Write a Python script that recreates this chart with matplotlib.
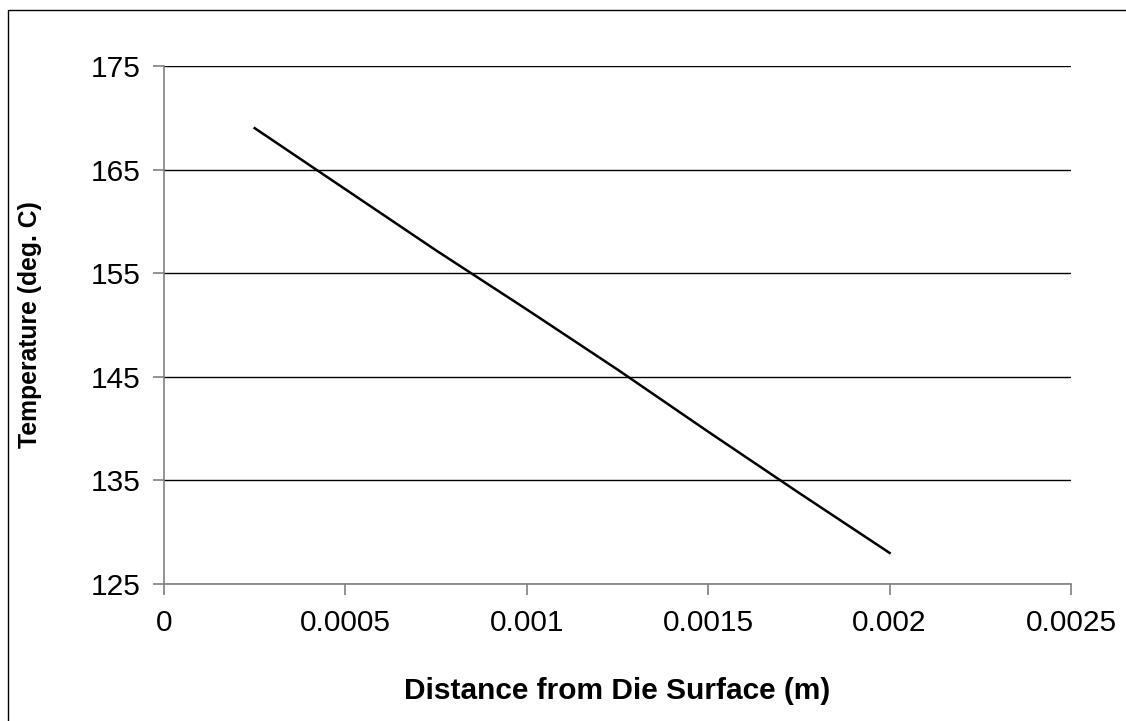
import matplotlib
matplotlib.use("Agg")
import matplotlib.pyplot as plt
from matplotlib.patches import Rectangle

plt.rcParams['font.family'] = ['Liberation Sans', 'DejaVu Sans']

# Temperature profile through the die wall
distance_m = [0.00025, 0.0005, 0.00075, 0.001, 0.00125, 0.0015, 0.00175, 0.002]
temperature_c = [169.0, 163.1, 157.2, 151.5, 145.7, 139.7, 133.8, 128.0]

x_ticks = [0, 0.0005, 0.001, 0.0015, 0.002, 0.0025]
x_tick_labels = ['0', '0.0005', '0.001', '0.0015', '0.002', '0.0025']
y_ticks = [125, 135, 145, 155, 165, 175]

W, H = 1126, 721
fig = plt.figure(figsize=(W / 100, H / 100), dpi=100)
fig.patch.set_facecolor('white')

# outer chart frame
fig.patches.append(Rectangle((8 / W, -0.1), 1.2, 1 - 10 / H + 0.1,
                             transform=fig.transFigure, fill=False,
                             edgecolor='black', linewidth=1.0))

left, right, top, bottom = 164, 1071, 66, 584
ax = fig.add_axes([left / W, 1 - bottom / H, (right - left) / W, (bottom - top) / H])

ax.plot(distance_m, temperature_c, color='black', linewidth=1.8, solid_joinstyle='miter')

ax.set_xlim(0, 0.0025)
ax.set_ylim(125, 175)
ax.set_xticks(x_ticks)
ax.set_xticklabels(x_tick_labels)
ax.set_yticks(y_ticks)

ax.grid(axis='y', color='black', linewidth=1.0)
ax.set_axisbelow(True)

for side in ('top', 'right'):
    ax.spines[side].set_visible(False)
for side in ('left', 'bottom'):
    ax.spines[side].set_color('#808080')
    ax.spines[side].set_linewidth(1.2)

ax.tick_params(axis='both', direction='out', length=8, width=1.2, color='#808080',
               labelsize=21.5, labelcolor='black')
ax.tick_params(axis='y', pad=9)
ax.tick_params(axis='x', pad=10)

fig.text(617 / W, 1 - 691 / H, 'Distance from Die Surface (m)', fontsize=21.5,
         fontweight='bold', ha='center', va='center')
fig.text(30 / W, 1 - 325 / H, 'Temperature (deg. C)', fontsize=17.8,
         fontweight='bold', ha='center', va='center', rotation=90)

fig.savefig('out.png', dpi=100, facecolor='white')
